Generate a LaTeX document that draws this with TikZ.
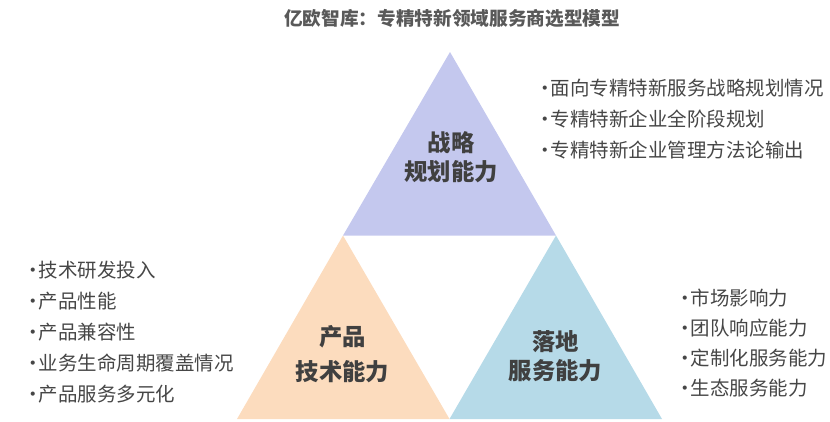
\documentclass[tikz,border=0pt]{standalone}
\usepackage{fontspec}
\setmainfont{Noto Sans CJK SC}
\usetikzlibrary{positioning}
\definecolor{lavender}{RGB}{196,200,238}
\definecolor{peach}{RGB}{252,220,190}
\definecolor{skyblue}{RGB}{182,218,232}
\definecolor{titlegray}{RGB}{89,89,89}
\definecolor{labelgray}{RGB}{64,64,64}
\definecolor{itemgray}{RGB}{70,70,70}
\newcommand{\dotmark}{\makebox[0.6em]{•}}

\begin{document}
\begin{tikzpicture}[
        x=0.75pt, y=-0.75pt,
        triname/.style={font=\bfseries\fontsize{17.5}{21.75}\selectfont, text=labelgray, align=center, inner sep=0pt},
        item/.style={anchor=west, font=\fontsize{14.6}{17}\selectfont, text=itemgray, inner sep=0pt},
        heading/.style={font=\bfseries\fontsize{14}{17}\selectfont, text=titlegray, inner sep=0pt}
        ]
        \useasboundingbox (0,0) rectangle (830,421);
        \node[heading] (title) at (452,18) {亿欧智库：专精特新领域服务商选型模型};
        % triangle corners
        \coordinate (apex)   at (450,52);
        \coordinate (mid-l)  at (343,235.5);
        \coordinate (mid-r)  at (556,235.5);
        \coordinate (base-l) at (237,419);
        \coordinate (base-m) at (449.5,419);
        \coordinate (base-r) at (662,419);
        \fill[lavender] (apex) -- (mid-r) -- (mid-l) -- cycle;
        \fill[peach]    (mid-l) -- (base-m) -- (base-l) -- cycle;
        \fill[skyblue]  (mid-r) -- (base-r) -- (base-m) -- cycle;
        \node[triname] (strategy) at (451,157.5) {战略\\规划能力};
        \node[triname] (product)  at (342.5,354.5) {产品\\[4.5pt]技术能力};
        \node[triname] (service)  at (555.5,356) {落地\\服务能力};
        % bullet lists
        \foreach \txt [count=\i] in {面向专精特新服务战略规划情况, 专精特新企业全阶段规划, 专精特新企业管理方法论输出}
            \node[item] (top-\i) at (539,{88+31*(\i-1)}) {\dotmark\txt};
        \foreach \txt [count=\i] in {技术研发投入, 产品性能, 产品兼容性, 业务生命周期覆盖情况, 产品服务多元化}
            \node[item] (left-\i) at (27,{270.5+31*(\i-1)}) {\dotmark\txt};
        \foreach \txt [count=\i] in {市场影响力, 团队响应能力, 定制化服务能力, 生态服务能力}
            \node[item] (right-\i) at (679,{298+30*(\i-1)}) {\dotmark\txt};
    \end{tikzpicture}
\end{document}
